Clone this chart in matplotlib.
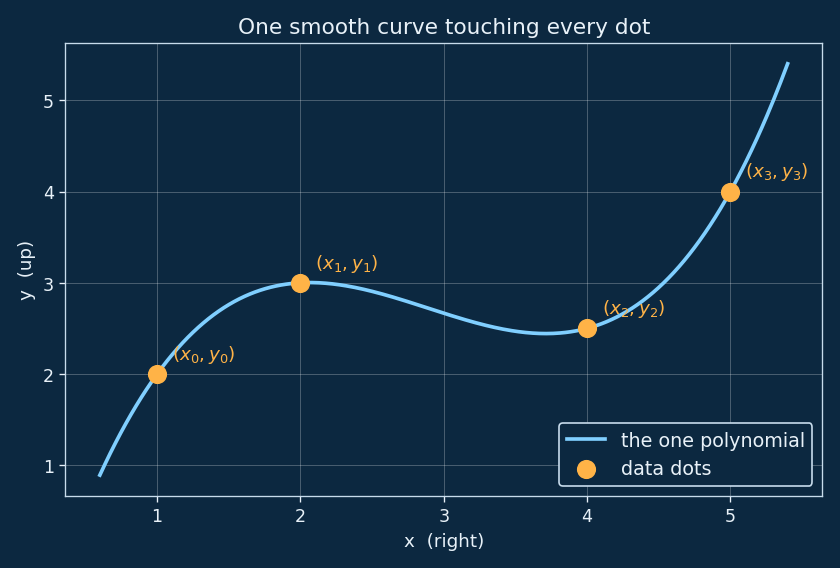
import numpy as np
import matplotlib
matplotlib.use("Agg")
import matplotlib.pyplot as plt

# data dots
xs = [1, 2, 4, 5]
ys = [2, 3, 2.5, 4]
labels = [r"$(x_0, y_0)$", r"$(x_1, y_1)$", r"$(x_2, y_2)$", r"$(x_3, y_3)$"]

bg = "#0c2840"
fg = "#e8f1f8"
curve_col = "#80cfff"
dot_col = "#ffb347"

# the interpolating cubic through the four dots
coef = np.polyfit(xs, ys, len(xs) - 1)
xx = np.linspace(0.6, 5.4, 400)
yy = np.polyval(coef, xx)

fig, ax = plt.subplots(figsize=(7, 4.74), dpi=120)
fig.patch.set_facecolor(bg)
ax.set_facecolor(bg)

ax.plot(xx, yy, color=curve_col, lw=2.2, label="the one polynomial", zorder=2)
ax.scatter(xs, ys, s=110, color=dot_col, label="data dots", zorder=3)
for x, y, lab in zip(xs, ys, labels):
    ax.annotate(lab, (x, y), xytext=(9, 9), textcoords="offset points",
                color=dot_col, fontsize=11)

ax.grid(True, color="white", alpha=0.25, lw=0.6)
ax.set_axisbelow(True)
for sp in ax.spines.values():
    sp.set_color("#c8dcec")
ax.tick_params(colors=fg, labelsize=10.5)
ax.set_xlabel("x  (right)", color=fg, fontsize=11)
ax.set_ylabel("y  (up)", color=fg, fontsize=11)
ax.set_title("One smooth curve touching every dot", color=fg, fontsize=13)

leg = ax.legend(loc="lower right", facecolor=bg, edgecolor="#c8dcec",
                labelcolor=fg, fontsize=11.5)
leg.get_frame().set_alpha(1)

fig.tight_layout()
fig.savefig("out.png", dpi=120, facecolor=bg)
